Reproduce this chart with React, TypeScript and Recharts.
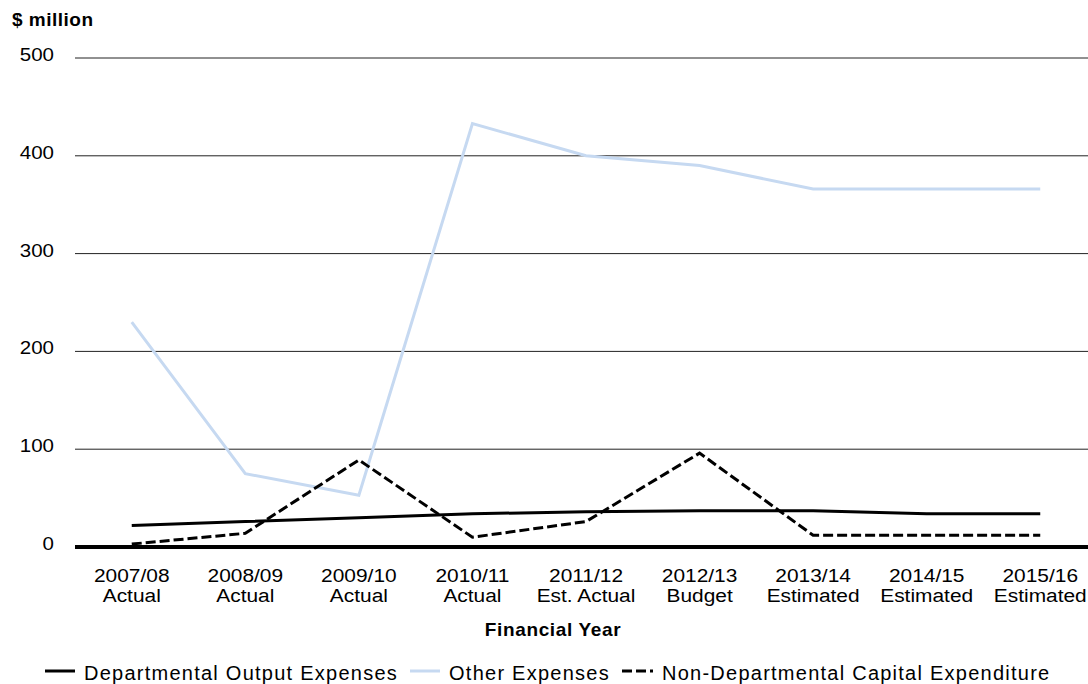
import React from 'react';
import { LineChart, Line, XAxis, YAxis, CartesianGrid } from 'recharts';

const years = ['2007/08', '2008/09', '2009/10', '2010/11', '2011/12', '2012/13', '2013/14', '2014/15', '2015/16'];
const periods = ['Actual', 'Actual', 'Actual', 'Actual', 'Est. Actual', 'Budget', 'Estimated', 'Estimated', 'Estimated'];
const departmentalOutput = [22, 26, 30, 34, 36, 37, 37, 34, 34];
const otherExpenses = [230, 75, 53, 433, 400, 390, 366, 366, 366];
const nonDeptCapital = [3, 14, 89, 10, 26, 96, 12, 12, 12];
const yTicks = [0, 100, 200, 300, 400, 500];

const data = years.map((y, i) => ({
  year: y,
  dept: departmentalOutput[i],
  other: otherExpenses[i],
  nondept: nonDeptCapital[i],
}));

const FONT = '"Liberation Sans", Arial, sans-serif';
const BLUE = '#C6D9F1';

const XTick = (props: any) => {
  const { x, y, payload, index } = props;
  return (
    <g transform={`translate(${x},${y})`}>
      <text transform="scale(1.1,1)" textAnchor="middle" fontSize={19} fill="#000" fontFamily={FONT}>
        <tspan x={0} dy={27}>{payload.value}</tspan>
        <tspan x={0} dy={20}>{periods[index]}</tspan>
      </text>
    </g>
  );
};

const YTick = (props: any) => {
  const { x, y, payload } = props;
  return (
    <g transform={`translate(${x},${y + 3})`}>
      <text transform="scale(1.08,1)" textAnchor="end" fontSize={19} fill="#000" fontFamily={FONT}>
        {payload.value}
      </text>
    </g>
  );
};

const legendItems = [
  { name: 'Departmental Output Expenses', color: '#000', dash: undefined as string | undefined, w: 30 },
  { name: 'Other Expenses', color: BLUE, dash: undefined as string | undefined, w: 30 },
  { name: 'Non-Departmental Capital Expenditure', color: '#000', dash: '10 4', w: 31 },
];

export default function App() {
  return (
    <div style={{ position: 'absolute', left: 0, top: 0, width: 1088, height: 684, overflow: 'hidden', background: '#fff', fontFamily: FONT }}>
      <LineChart width={1097} height={684} data={data} margin={{ top: 58, right: 0, left: 0, bottom: 0 }}>
        <CartesianGrid vertical={false} stroke="#222" strokeWidth={1} />
        <XAxis
          dataKey="year"
          interval={0}
          height={137}
          padding={{ left: 56.75, right: 56.75 }}
          axisLine={{ stroke: '#000', strokeWidth: 4 }}
          tickLine={false}
          tick={<XTick />}
        />
        <YAxis
          domain={[0, 500]}
          ticks={yTicks}
          width={75}
          axisLine={false}
          tickLine={false}
          tickMargin={15}
          tick={<YTick />}
        />
        <Line type="linear" dataKey="other" stroke={BLUE} strokeWidth={3} dot={false} isAnimationActive={false} />
        <Line type="linear" dataKey="dept" stroke="#000" strokeWidth={3} dot={false} isAnimationActive={false} />
        <Line type="linear" dataKey="nondept" stroke="#000" strokeWidth={3} strokeDasharray="10 4" dot={false} isAnimationActive={false} />
      </LineChart>

      <div style={{ position: 'absolute', left: 12, top: 10, fontSize: 19, lineHeight: '19px', fontWeight: 'bold', letterSpacing: 0.5, color: '#000', whiteSpace: 'nowrap' }}>
        $ million
      </div>
      <div style={{ position: 'absolute', left: 253, width: 600, top: 620, textAlign: 'center', fontSize: 19, lineHeight: '19px', fontWeight: 'bold', letterSpacing: 0.65, color: '#000', whiteSpace: 'nowrap' }}>
        Financial Year
      </div>

      <div style={{ position: 'absolute', left: 45, top: 663, display: 'flex', alignItems: 'center', whiteSpace: 'nowrap' }}>
        {legendItems.map((it, i) => (
          <React.Fragment key={it.name}>
            <svg width={it.w} height={20} style={{ display: 'block', marginRight: 9 }}>
              <line x1={0} x2={it.w} y1={8} y2={8} stroke={it.color} strokeWidth={3} strokeDasharray={it.dash} />
            </svg>
            <span style={{ fontSize: 20, lineHeight: '20px', letterSpacing: 1.25, color: '#000', marginRight: i < legendItems.length - 1 ? 12 : 0 }}>
              {it.name}
            </span>
          </React.Fragment>
        ))}
      </div>
    </div>
  );
}
